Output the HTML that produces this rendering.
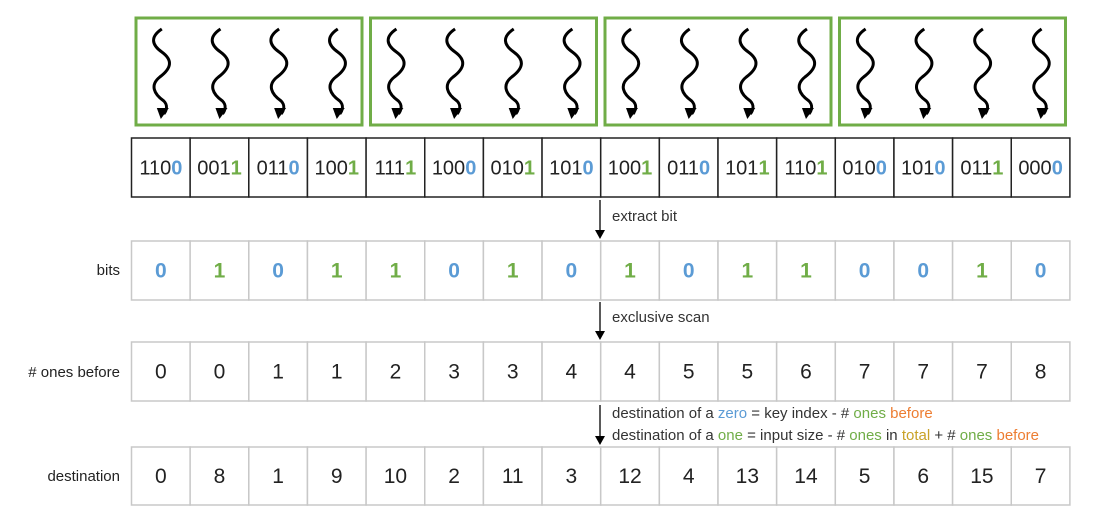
<!DOCTYPE html>
<html><head><meta charset="utf-8"><style>
body{margin:0;background:#fff;width:1118px;height:530px;overflow:hidden}
svg{display:block;font-family:"Liberation Sans",sans-serif}
</style></head><body>
<svg id="s" width="1118" height="530" viewBox="0 0 1118 530">
</svg>
<script>
const keys=["1100","0011","0110","1001","1111","1000","0101","1010","1001","0110","1011","1101","0100","1010","0111","0000"];
const bits=[0,1,0,1,1,0,1,0,1,0,1,1,0,0,1,0];
const onesBefore=[0,0,1,1,2,3,3,4,4,5,5,6,7,7,7,8];
const destination=[0,8,1,9,10,2,11,3,12,4,13,14,5,6,15,7];
const rowLabels=["bits","# ones before","destination"];
const BLUE="#5b9bd5",GREEN="#70ad47",ORANGE="#ed7d31",GOLD="#c9a227";
const NS="http://www.w3.org/2000/svg";
const svg=document.getElementById('s');
const X0=131.5,W=58.65;
const cx=i=>X0+i*W;
function el(t,a,p){const e=document.createElementNS(NS,t);for(const k in a)e.setAttribute(k,a[k]);(p||svg).appendChild(e);return e;}
for(let b=0;b<4;b++){
  const x=136+b*234.5;
  const r=el('rect',{x:x,y:18,width:226,height:107,fill:'none',stroke:GREEN,'stroke-width':3});
  
  
  for(let t=0;t<4;t++){
    const i=b*4+t, c=cx(i)+W/2+3;
    const d=`M${c-2},29 C${c-14},37 ${c-12},45 ${c-2},52 C${c+9},60 ${c+8},68 ${c-4},77 C${c-14},85 ${c-10},94 ${c},101 C${c+4},105 ${c+3},110 ${c},114`;
    const p=el('path',{d:d,fill:'none',stroke:'#000','stroke-width':3});
    
    
    el('path',{d:`M${c-7},108 L${c+5},108 L${c-3},119 Z`,fill:'#000'});
  }
}
function row(y,h,stroke,sw,vals,name,colorFn,fs,bold){
  for(let i=0;i<16;i++){
    const r=el('rect',{x:cx(i),y:y,width:W,height:h,fill:'#fff',stroke:stroke,'stroke-width':sw});
    
    
    const t=el('text',{x:cx(i)+W/2,y:y+h/2+7,'text-anchor':'middle','font-size':fs,fill:'#222','font-weight':bold?'bold':'normal'});
    
    
    colorFn(t,vals[i],i);
  }
}
row(138,59,'#222',1.5,keys,'key',(t,v)=>{
  t.setAttribute('font-size','20');
  const a=el('tspan',{},t);a.textContent=v.slice(0,3);
  const b=el('tspan',{fill:v[3]==='1'?GREEN:BLUE,'font-weight':'bold'},t);b.textContent=v[3];
},20);
row(241,59,'#c8c8c8',1.5,bits,'bit',(t,v)=>{t.textContent=v;t.setAttribute('fill',v?GREEN:BLUE);},21,true);
row(342,59,'#c8c8c8',1.5,onesBefore,'ones-before',(t,v)=>{t.textContent=v;},21);
row(447,58,'#c8c8c8',1.5,destination,'destination',(t,v)=>{t.textContent=v;},21);
[270,372,476].forEach((y,k)=>{
  const t=el('text',{x:120,y:y+5,'text-anchor':'end','font-size':15,fill:'#222'});
  t.textContent=rowLabels[k];
  
  
});
[[200,239],[302,340],[405,445]].forEach(([a,b])=>{
  const l=el('line',{x1:600,y1:a,x2:600,y2:b-8,stroke:'#000','stroke-width':1.3});
  
  
  el('path',{d:`M595,${b-9} L605,${b-9} L600,${b} Z`,fill:'#000'});
});
function txt(x,y,parts,name){
  const t=el('text',{x:x,y:y,'font-size':15,fill:'#333'});
  
  
  parts.forEach(([s,c])=>{const sp=el('tspan',c?{fill:c}:{},t);sp.textContent=s;});
}
txt(612,221,[["extract bit"]],'extract-bit-label');
txt(612,322,[["exclusive scan"]],'exclusive-scan-label');
txt(612,418,[["destination of a "],["zero",BLUE],[" = key index - # "],["ones",GREEN],[" "],["before",ORANGE]],'zero-formula');
txt(612,440,[["destination of a "],["one",GREEN],["  = input size - # "],["ones",GREEN],[" in "],["total",GOLD],[" + # "],["ones",GREEN],[" "],["before",ORANGE]],'one-formula');
</script>
</body></html>
